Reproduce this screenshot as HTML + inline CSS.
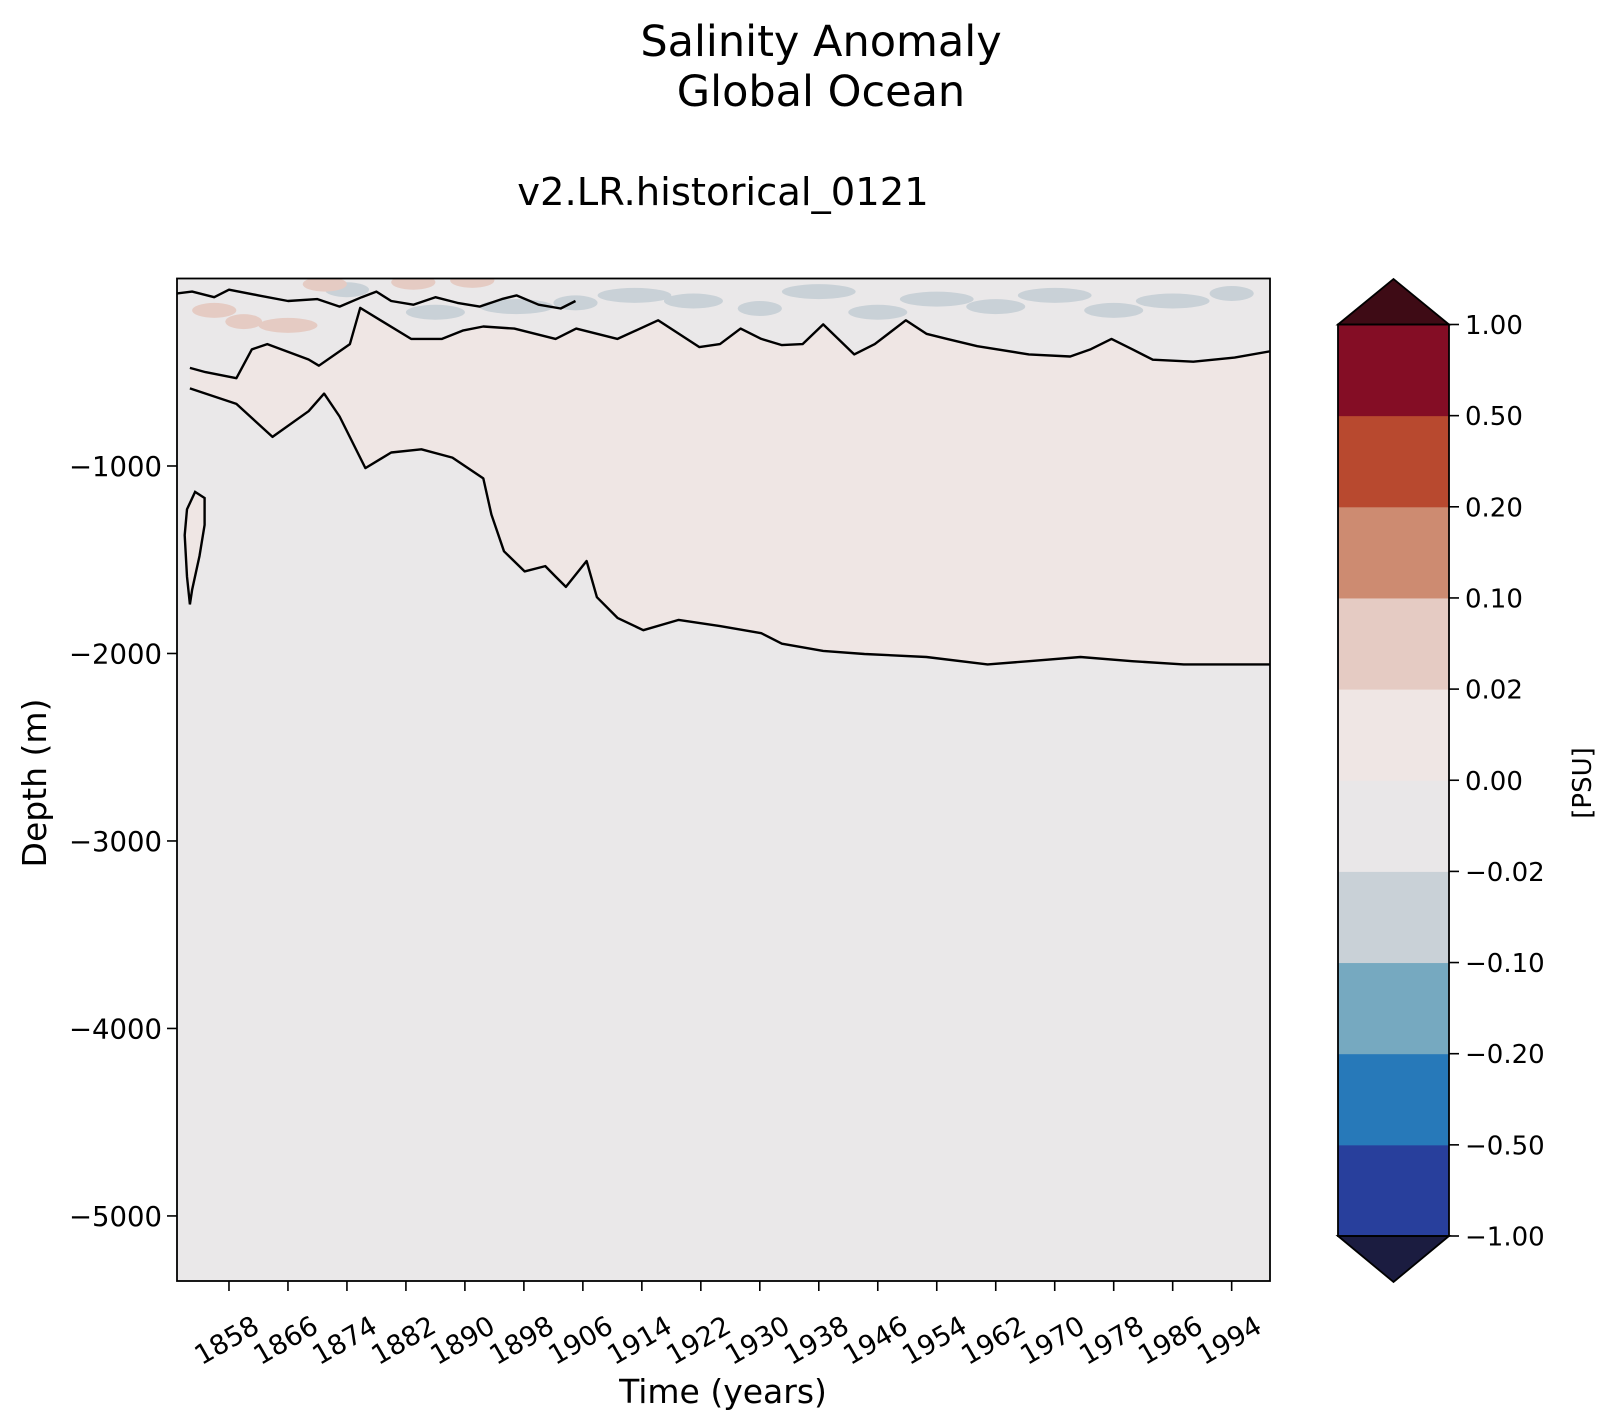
<!DOCTYPE html>
<html><head><meta charset="utf-8"><style>
html,body{margin:0;padding:0;background:#fff}
svg{display:block;font-family:"DejaVu Sans","Liberation Sans",sans-serif}
</style></head><body>
<svg id="chart" width="1612" height="1425" viewBox="0 0 1612 1425" xmlns="http://www.w3.org/2000/svg">
<text x="821" y="56" font-size="43" text-anchor="middle">Salinity Anomaly</text>
<text x="821" y="106" font-size="43" text-anchor="middle">Global Ocean</text>
<text x="723" y="205" font-size="38.5" text-anchor="middle">v2.LR.historical_0121</text>
<g id="plot"></g>
<g id="xaxis"></g>
<g id="yaxis"></g>
<g id="cbar"></g>
<text x="723" y="1403" font-size="33" text-anchor="middle">Time (years)</text>
<text transform="translate(46,783) rotate(-90)" font-size="33" text-anchor="middle">Depth (m)</text>
<text transform="translate(1591,783) rotate(-90)" font-size="26" text-anchor="middle">[PSU]</text>
</svg>
<script>
const xTicks = [1858,1866,1874,1882,1890,1898,1906,1914,1922,1930,1938,1946,1954,1962,1970,1978,1986,1994];
const yTicks = [-1000,-2000,-3000,-4000,-5000];
const cbLevels = [-1,-0.5,-0.2,-0.1,-0.02,0,0.02,0.1,0.2,0.5,1];
const cbLabels = ["\u22121.00","\u22120.50","\u22120.20","\u22120.10","\u22120.02","0.00","0.02","0.10","0.20","0.50","1.00"];
const cbColors = ["#283f9c","#2779b9","#76a9c0","#c9d1d7","#e9e7e8","#efe6e4","#e5cbc3","#cd8b71","#b8492f","#840d25"];
const upperYears = [1852.7,1854.8,1859.0,1861.1,1863.2,1868.8,1870.2,1874.4,1875.8,1882.7,1886.9,1889.7,1892.5,1896.7,1902.3,1905.1,1910.7,1916.2,1921.8,1924.6,1927.4,1930.2,1933.0,1935.8,1938.6,1942.8,1945.6,1949.8,1952.6,1955.4,1959.5,1966.5,1972.1,1974.9,1977.7,1980.5,1983.3,1988.8,1994.4,1999.3];
const upperDepth = [-477,-499,-532,-378,-350,-432,-465,-350,-157,-322,-322,-278,-256,-267,-322,-267,-322,-223,-366,-350,-267,-322,-355,-350,-245,-405,-350,-223,-295,-322,-361,-405,-416,-377,-322,-377,-433,-444,-422,-388];
const lowerYears = [1852.7,1859.0,1863.9,1868.8,1870.9,1873.0,1876.5,1880.0,1884.1,1888.3,1892.5,1893.6,1895.3,1898.1,1900.9,1902.3,1903.7,1906.5,1907.9,1910.7,1914.2,1919.0,1924.6,1930.2,1933.0,1938.6,1944.2,1952.6,1960.9,1966.5,1973.5,1980.5,1987.5,1999.3];
const lowerDepth = [-586,-669,-845,-708,-614,-736,-1011,-928,-911,-955,-1066,-1259,-1455,-1562,-1534,-1590,-1645,-1507,-1700,-1810,-1876,-1821,-1854,-1892,-1948,-1986,-2003,-2019,-2058,-2041,-2019,-2041,-2058,-2058];
const islandYears = [1853.4,1854.7,1854.7,1854.0,1853.0,1852.7,1852.3,1852.0,1852.3];
const islandDepth = [-1138,-1171,-1314,-1480,-1661,-1738,-1590,-1369,-1231];
const topLineYears = [1850.9,1853,1856,1858,1862,1866,1870,1873,1876,1878,1880,1883,1886,1889,1892,1895,1897,1900,1903,1905];
const topLineDepth = [-80,-70,-100,-60,-90,-120,-110,-150,-100,-70,-120,-140,-100,-130,-150,-110,-90,-140,-160,-120];
const bluePatchYears = [1874,1886,1897,1905,1913,1921,1930,1938,1946,1954,1962,1970,1978,1986,1994];
const bluePatchDepth = [-60,-180,-150,-130,-90,-120,-160,-70,-180,-110,-150,-90,-170,-120,-80];
const bluePatchWidth = [3,4,5,3,5,4,3,5,4,5,4,5,4,5,3];
const pinkPatchYears = [1856,1860,1866,1871,1883,1891];
const pinkPatchDepth = [-170,-230,-250,-30,-20,-10];
const pinkPatchWidth = [3,2.5,4,3,3,3];

const X0=177,X1=1270,Y0=278.5,Y1=1281;
const xMin=1850.95,xMax=1999.2,dTop=0,dBot=-5347;
const xs=v=>X0+(v-xMin)/(xMax-xMin)*(X1-X0);
const ys=v=>Y0+(v-dTop)/(dBot-dTop)*(Y1-Y0);
const NS="http://www.w3.org/2000/svg";
function mk(tag,parent,attrs){const e=document.createElementNS(NS,tag);for(const k in attrs)e.setAttribute(k,attrs[k]);parent.appendChild(e);return e;}
const plot=document.getElementById('plot');
const defs=mk('defs',plot,{});
const cp=mk('clipPath',defs,{id:'pc'});
mk('rect',cp,{x:X0,y:Y0,width:X1-X0,height:Y1-Y0});
const g=mk('g',plot,{'clip-path':'url(#pc)'});
let r=mk('rect',g,{x:X0,y:Y0,width:X1-X0,height:Y1-Y0,fill:'#eae8e9'});


for(let i=0;i<bluePatchYears.length;i++){
  const e=mk('ellipse',g,{cx:xs(bluePatchYears[i]),cy:ys(bluePatchDepth[i]),rx:xs(bluePatchYears[i]+bluePatchWidth[i])-xs(bluePatchYears[i]),ry:ys(0)-ys(40),fill:'#c9d1d7'});
  
  
}
for(let i=0;i<pinkPatchYears.length;i++){
  const e=mk('ellipse',g,{cx:xs(pinkPatchYears[i]),cy:ys(pinkPatchDepth[i]),rx:xs(pinkPatchYears[i]+pinkPatchWidth[i])-xs(pinkPatchYears[i]),ry:ys(0)-ys(40),fill:'#e5cbc3'});
  
  
}
function pts(yr,dp){return yr.map((v,i)=>xs(v).toFixed(1)+','+ys(dp[i]).toFixed(1));}
const up=pts(upperYears,upperDepth), lo=pts(lowerYears,lowerDepth);
const band=mk('polygon',g,{points:up.concat(lo.slice().reverse()).join(' '),fill:'#efe6e4'});


const l1=mk('polyline',g,{points:up.join(' '),fill:'none',stroke:'#000','stroke-width':2.4,'stroke-linejoin':'round'});


const l2=mk('polyline',g,{points:lo.join(' '),fill:'none',stroke:'#000','stroke-width':2.4,'stroke-linejoin':'round'});


const l3=mk('polyline',g,{points:pts(topLineYears,topLineDepth).join(' '),fill:'none',stroke:'#000','stroke-width':2.4,'stroke-linejoin':'round'});


const isl=mk('polygon',g,{points:pts(islandYears,islandDepth).join(' '),fill:'#efe6e4',stroke:'#000','stroke-width':2.4});


const fr=mk('rect',plot,{x:X0,y:Y0,width:X1-X0,height:Y1-Y0,fill:'none',stroke:'#000','stroke-width':1.8});



const xa=document.getElementById('xaxis');
xTicks.forEach(t=>{
  const x=xs(t);
  const tk=mk('line',xa,{x1:x,x2:x,y1:Y1,y2:Y1+10,stroke:'#000','stroke-width':1.6});
  
  
  const tx=mk('text',xa,{x:0,y:0,'font-size':27,'text-anchor':'middle','dominant-baseline':'central',transform:`translate(${x-2},${Y1+60}) rotate(-30)`});
  tx.textContent=t;
  
  
});
const ya=document.getElementById('yaxis');
yTicks.forEach((t,i)=>{
  const y=ys(t);
  const tk=mk('line',ya,{x1:X0-10,x2:X0,y1:y,y2:y,stroke:'#000','stroke-width':1.6});
  
  
  const tx=mk('text',ya,{x:X0-15,y:y+10,'font-size':27.5,'text-anchor':'end'});
  tx.textContent='\u2212'+Math.abs(t);
  
  
});
const cb=document.getElementById('cbar');
const CX0=1338,CX1=1449,CT=324.5,CB=1236;
const seg=(CB-CT)/(cbLevels.length-1);
cbColors.forEach((c,i)=>{
  const rr=mk('rect',cb,{x:CX0,y:CB-(i+1)*seg,width:CX1-CX0,height:seg+0.5,fill:c});
  
  
});
const tt=mk('polygon',cb,{points:`${CX0},${CT} ${(CX0+CX1)/2},279 ${CX1},${CT}`,fill:'#3e0b15',stroke:'#000','stroke-width':1.8});


const bt=mk('polygon',cb,{points:`${CX0},${CB} ${(CX0+CX1)/2},1282 ${CX1},${CB}`,fill:'#1b1c40',stroke:'#000','stroke-width':1.8});


const cf=mk('rect',cb,{x:CX0,y:CT,width:CX1-CX0,height:CB-CT,fill:'none',stroke:'#000','stroke-width':1.8});


cbLevels.forEach((v,i)=>{
  const y=CB-i*seg;
  const tk=mk('line',cb,{x1:CX1,x2:CX1+10,y1:y,y2:y,stroke:'#000','stroke-width':1.6});
  
  
  const tx=mk('text',cb,{x:CX1+16,y:y+9.5,'font-size':26});
  tx.textContent=cbLabels[i];
  
  
});
</script>
</body></html>
